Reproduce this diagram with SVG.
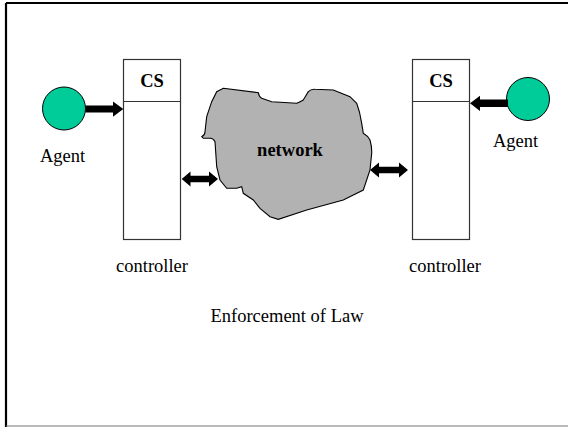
<svg xmlns="http://www.w3.org/2000/svg" width="568" height="427" viewBox="0 0 568 427">
<style>
text{font-family:'Liberation Serif','DejaVu Serif',serif;font-size:18.5px;fill:#000}
.b{font-weight:bold}
.ctl{fill:#fff;stroke:#333;stroke-width:1.2}
.agent{fill:#00cc99;stroke:#000;stroke-width:1}
.arr{fill:#000}
</style>
<rect x="0" y="0" width="568" height="427" fill="#fff"/>
<g id="frame">
<line x1="6" y1="3" x2="568" y2="3" stroke="#000" stroke-width="2"/>
<line x1="6" y1="3" x2="6" y2="427" stroke="#000" stroke-width="2.2"/>
<line x1="6" y1="426" x2="568" y2="426" stroke="#777" stroke-width="1.2"/>
</g>
<g id="controller-left">
<rect class="ctl" x="123.5" y="59.5" width="57" height="180"/>
<line x1="123.5" y1="101.5" x2="180.5" y2="101.5" stroke="#333" stroke-width="1.2"/>
<text class="b" x="152" y="87" text-anchor="middle" font-family="Liberation Serif, serif">CS</text>
<text x="152" y="272" text-anchor="middle" font-family="Liberation Serif, serif">controller</text>
</g>
<g id="controller-right">
<rect class="ctl" x="412.5" y="59.5" width="57" height="180"/>
<line x1="412.5" y1="101.5" x2="469.5" y2="101.5" stroke="#333" stroke-width="1.2"/>
<text class="b" x="441" y="87" text-anchor="middle" font-family="Liberation Serif, serif">CS</text>
<text x="445" y="272" text-anchor="middle" font-family="Liberation Serif, serif">controller</text>
</g>
<g id="agent-left">
<circle class="agent" cx="64" cy="108.5" r="21.5"/>
<text x="62.5" y="162" text-anchor="middle" font-family="Liberation Serif, serif">Agent</text>
</g>
<g id="agent-right">
<circle class="agent" cx="528" cy="99" r="21.5"/>
<text x="515.5" y="147" text-anchor="middle" font-family="Liberation Serif, serif">Agent</text>
</g>
<g id="network">
<path d="M223.3,88.3 L258.3,92.7 Q259,97 261.7,98.3 L271.7,101.7 L296.7,103.3 Q302,101 303.3,100 L308.3,91.7 Q311,89 315,89.3 L333.3,90 L350,96.7 L356.7,103.3 Q360,112 361.7,123.3 L363.3,133.3 Q368,136 370,140 Q372,147 371.7,153.3 L370,170 L363.3,190 L343.3,200 L306.7,210 L278.3,219.3 L270,216.7 L260,208.3 L253.3,200 L243.3,193.3 L241.7,186.7 L236.7,188.3 L226.7,188.3 L220,180 L216.7,166.7 L215,141.7 Q213,138 210,138.3 L203.3,138.3 L201.7,136.7 Q205,135 205,131.7 L206.7,116.7 L211.7,101.7 L216.7,91.7 Z" fill="#b2b2b2" stroke="#000" stroke-width="1.1"/>
<text class="b" x="290" y="156" text-anchor="middle" font-family="Liberation Serif, serif">network</text>
</g>
<g id="caption">
<text x="287" y="322" text-anchor="middle" font-family="Liberation Serif, serif">Enforcement of Law</text>
</g>
<g id="connectors">
<polygon class="arr" points="85.5,105.5 113,105.5 113,101.5 123.3,109 113,116.7 113,112.5 85.5,112.5"/>
<polygon class="arr" points="508,99.5 480,99.5 480,95.7 470,103.3 480,111 480,107 508,107"/>
<polygon class="arr" points="181.7,179 190.5,171.5 190.5,175.7 209,175.7 209,171.5 218,179 209,186.5 209,182.3 190.5,182.3 190.5,186.5"/>
<polygon class="arr" points="370,170 379,162.5 379,166.7 399,166.7 399,162.5 408,170 399,177.5 399,173.3 379,173.3 379,177.5"/>
</g>
</svg>
